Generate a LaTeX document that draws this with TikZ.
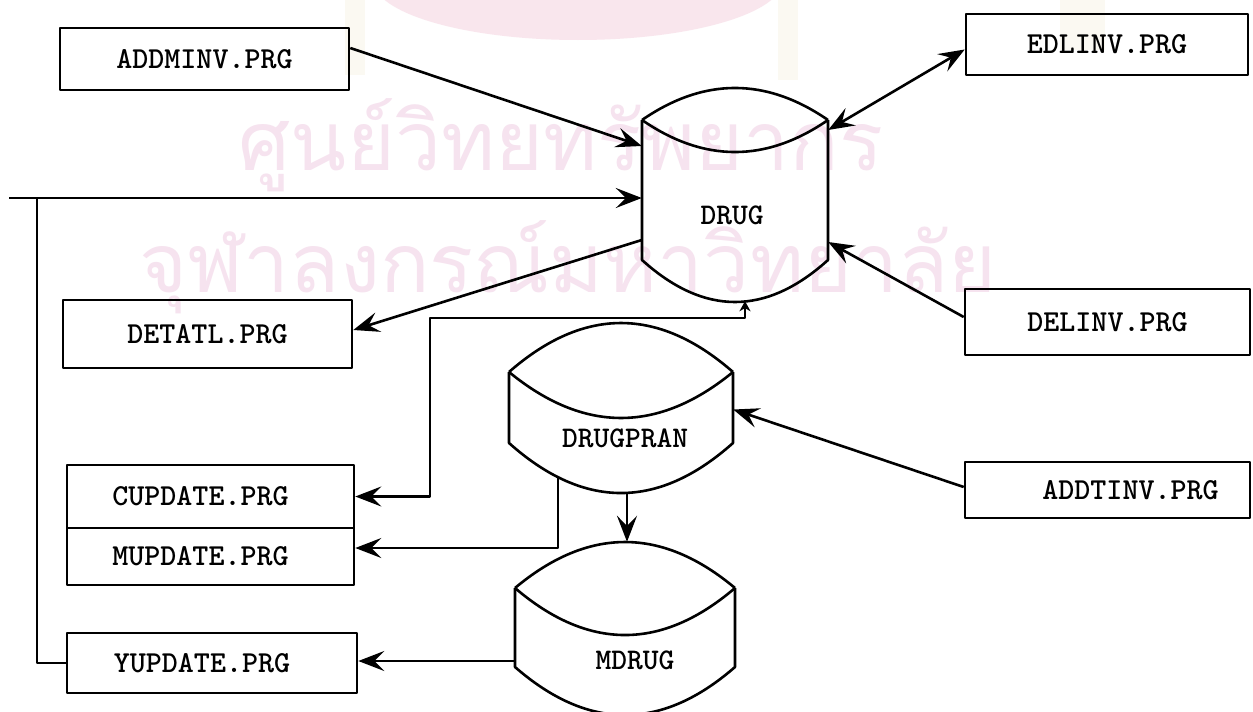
\documentclass[tikz,border=0pt]{standalone}
\usepackage{fontspec}
\setmainfont{Liberation Serif}
\newfontfamily\thaifont[Script=Thai]{Loma}
\usetikzlibrary{arrows.meta}
\definecolor{wm}{RGB}{246,227,239}
\definecolor{crest}{RGB}{249,230,237}
\definecolor{beige}{RGB}{251,249,242}
\begin{document}
\begin{tikzpicture}[x=1pt,y=-1pt,line join=round,
  prg/.style={draw,line width=2.6pt,inner sep=0pt,font=\ttfamily\bfseries\fontsize{30.5}{30.5}\selectfont},
  cylb/.style={inner sep=0pt},
  cyltxt/.style={inner sep=0pt,font=\ttfamily\bfseries\fontsize{30}{30}\selectfont},
  wmtxt/.style={anchor=base,inner sep=0pt,text=wm,font=\thaifont\fontsize{82}{82}\selectfont},
  shp/.style={line width=2.6pt},
  wire/.style={line width=2.6pt},
  big/.tip={Stealth[length=26pt,width=20pt,inset=10pt]},
  small/.tip={Stealth[length=10pt,width=11pt,inset=3pt]},
  conn/.style={wire,-big}]
\useasboundingbox (0,0) rectangle (1253,712);
\fill[white] (0,0) rectangle (1253,712);
\begin{scope}
\clip (0,0) rectangle (1253,712);
% watermark
\fill[crest] (578,-20) ellipse [x radius=205pt, y radius=60pt];
\fill[beige] (345,0) rectangle (365,75);
\fill[beige] (778,0) rectangle (798,80);
\fill[beige] (1060,0) rectangle (1105,50);
\node[wmtxt] (wm1) at (561,170) {ศูนย์วิทยทรัพยากร};
\node[wmtxt] (wm2) at (568,292) {จุฬาลงกรณ์มหาวิทยาลัย};
% DRUG cylinder
\draw[shp] (642,120) .. controls (704,77.3) and (766,77.3) .. (828,120);
\draw[shp] (642,120) .. controls (704,162.7) and (766,162.7) .. (828,120);
\draw[shp] (642,120) -- (642,260) .. controls (704,316) and (766,316) .. (828,260) -- (828,120);
% DRUGPRAN cylinder
\draw[shp] (509,372) .. controls (583.7,306.7) and (658.3,306.7) .. (733,372);
\draw[shp] (509,372) .. controls (583.7,433.3) and (658.3,433.3) .. (733,372);
\draw[shp] (509,372) -- (509,443) .. controls (583.7,509.7) and (658.3,509.7) .. (733,443) -- (733,372);
% MDRUG cylinder
\draw[shp] (515,588) .. controls (588.3,526.7) and (661.7,526.7) .. (735,588);
\draw[shp] (515,588) .. controls (588.3,650.7) and (661.7,650.7) .. (735,588);
\draw[shp] (515,588) -- (515,667) .. controls (588.3,731) and (661.7,731) .. (735,667) -- (735,588);
\end{scope}
% program boxes
\node[prg,minimum width=289pt,minimum height=62pt] (addminv) at (204.5,59) {ADDMINV.PRG};
\node[prg,minimum width=282pt,minimum height=61pt] (edlinv) at (1107,44.5) {EDLINV.PRG};
\node[prg,minimum width=285pt,minimum height=66pt] (delinv) at (1107.5,322) {DELINV.PRG};
\node[prg,minimum width=285pt,minimum height=56pt] (addtinv) at (1107.5,490) {\hspace*{46pt}ADDTINV.PRG};
\node[prg,minimum width=289pt,minimum height=68pt] (detatl) at (207.5,334) {DETATL.PRG};
\node[prg,minimum width=287pt,minimum height=63pt] (cupdate) at (210.5,496.5) {CUPDATE.PRG\hspace*{20pt}};
\node[prg,minimum width=287pt,minimum height=57pt] (mupdate) at (210.5,556.5) {MUPDATE.PRG\hspace*{20pt}};
\node[prg,minimum width=290pt,minimum height=60pt] (yupdate) at (212,663) {YUPDATE.PRG\hspace*{20pt}};
% cylinder bodies and labels
\node[cylb,minimum width=186pt,minimum height=140pt] (drug) at (735,190) {};
\node[cylb,minimum width=224pt,minimum height=71pt] (drugpran) at (621,407.5) {};
\node[cylb,minimum width=220pt,minimum height=79pt] (mdrug) at (625,627.5) {};
\node[cyltxt] (druglabel) at (732,215) {DRUG};
\node[cyltxt] (drugpranlabel) at (625,438) {DRUGPRAN};
\node[cyltxt] (mdruglabel) at (635,660) {MDRUG};
% connectors
\coordinate (busL) at (9,198);
\coordinate (busJ) at (37,198);
\coordinate (jc) at (430,318);
\draw[conn] ([yshift=11pt]addminv.east) -- ([yshift=44pt]drug.west);
\draw[conn] (busL) -- ([yshift=-8pt]drug.west);
\draw[wire] (yupdate.west) -| (busJ);
\draw[conn] ([yshift=-50pt]drug.west) -- ([yshift=4pt]detatl.east);
\draw[wire,big-big] ([yshift=60pt]drug.east) -- ([yshift=-5pt]edlinv.west);
\draw[conn] ([yshift=5pt]delinv.west) -- ([yshift=-52pt]drug.east);
\draw[conn] ([yshift=3pt]addtinv.west) -- ([yshift=-2pt]drugpran.east);
\draw[wire,small-big] ([xshift=10pt,yshift=-41pt]drug.south) |- (jc) |- (cupdate.east);
\draw[conn] ([xshift=-63pt,yshift=-34pt]drugpran.south) |- ([yshift=8.5pt]mupdate.east);
\draw[conn] ([xshift=6pt,yshift=-50pt]drugpran.south) -- ([xshift=2pt,yshift=46pt]mdrug.north);
\coordinate (mdw) at ([yshift=-33.5pt]mdrug.west);
\draw[conn] (mdw) -- (yupdate.east |- mdw);
\end{tikzpicture}
\end{document}
